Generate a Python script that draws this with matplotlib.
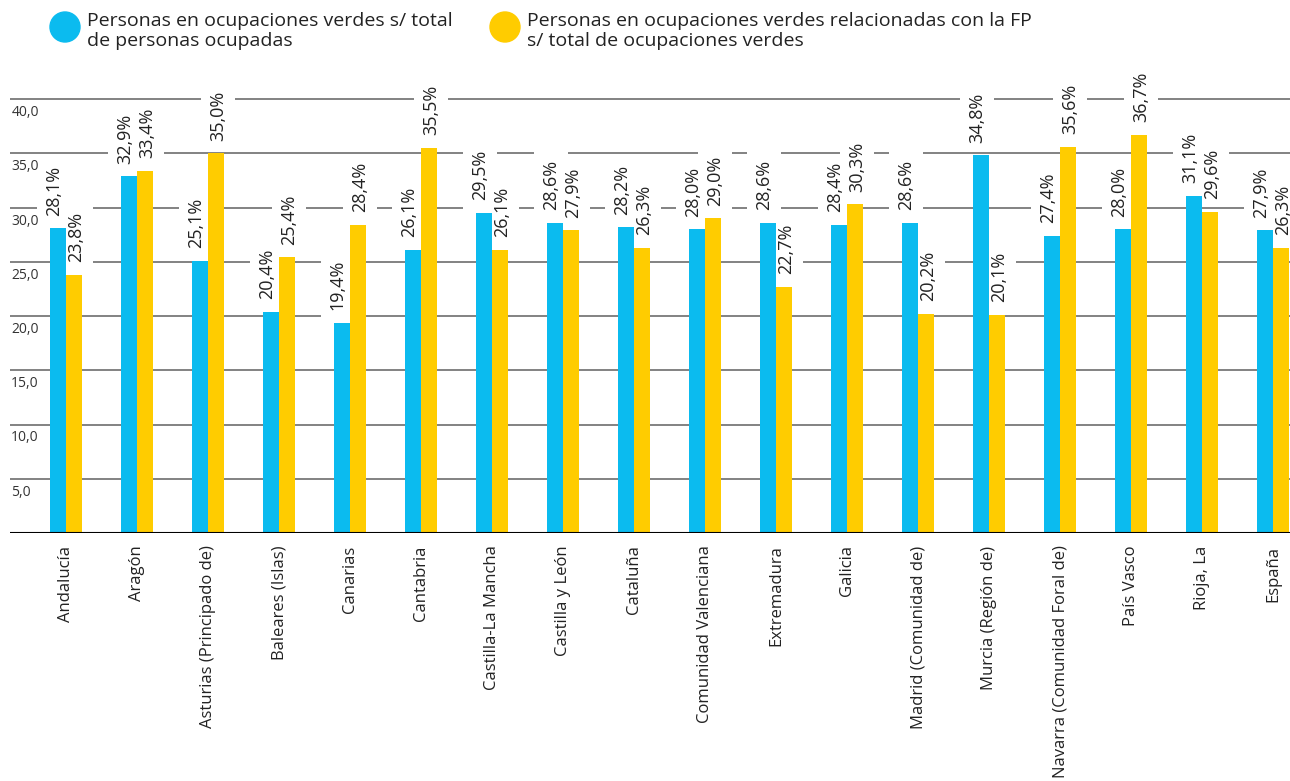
import numpy as np
import matplotlib
matplotlib.use("Agg")
import matplotlib.pyplot as plt
from matplotlib.patches import Ellipse

plt.rcParams['font.family'] = ['Open Sans', 'DejaVu Sans']

# data
regions = ["Andalucía", "Aragón", "Asturias (Principado de)", "Baleares (Islas)",
           "Canarias", "Cantabria", "Castilla-La Mancha", "Castilla y León",
           "Cataluña", "Comunidad Valenciana", "Extremadura", "Galicia",
           "Madrid (Comunidad de)", "Murcia (Región de)", "Navarra (Comunidad Foral de)",
           "País Vasco", "Rioja, La", "España"]
verdes_total = [28.1, 32.9, 25.1, 20.4, 19.4, 26.1, 29.5, 28.6, 28.2,
                28.0, 28.6, 28.4, 28.6, 34.8, 27.4, 28.0, 31.1, 27.9]
verdes_fp = [23.8, 33.4, 35.0, 25.4, 28.4, 35.5, 26.1, 27.9, 26.3,
             29.0, 22.7, 30.3, 20.2, 20.1, 35.6, 36.7, 29.6, 26.3]
yticks = [5, 10, 15, 20, 25, 30, 35, 40]
legend_labels = ["Personas en ocupaciones verdes s/ total\nde personas ocupadas",
                 "Personas en ocupaciones verdes relacionadas con la FP\ns/ total de ocupaciones verdes"]

BLUE = "#0BBBEF"
YELLOW = "#FFCC00"


def fmt(v):
    return f"{v:.1f}".replace(".", ",")


fig = plt.figure(figsize=(12.9, 7.81), dpi=100)
W, H = 1290, 781
ax = fig.add_axes([10 / W, 248 / H, 1280 / W, (533 - 66.5) / H])

x = np.arange(len(regions))
bw = 0.225

for v in yticks:
    ax.axhline(v, color="#606060", lw=1.1, zorder=1)
    ax.text(0.001, v - 0.55, fmt(v), transform=ax.get_yaxis_transform(),
            fontsize=10, color="#333333", va="top", ha="left", zorder=2.5)

ax.bar(x - bw / 2, verdes_total, bw, color=BLUE, zorder=3)
ax.bar(x + bw / 2, verdes_fp, bw, color=YELLOW, zorder=3)

# white boxes first (under bars), then the value texts on top
for xs, vals, dx in ((x - bw / 2, verdes_total, -3), (x + bw / 2, verdes_fp, 1.5)):
    for xi, v in zip(xs, vals):
        ax.annotate(fmt(v) + "%", (xi, v), xytext=(dx, 9), textcoords="offset points",
                    rotation=90, ha="center", va="bottom", fontsize=13, color="none",
                    bbox=dict(boxstyle="square,pad=0.45", fc="white", ec="none"),
                    zorder=2)
        ax.annotate(fmt(v) + "%", (xi, v), xytext=(dx, 9), textcoords="offset points",
                    rotation=90, ha="center", va="bottom", fontsize=13, color="#222222",
                    zorder=5)

ax.axhline(0, color="black", lw=1.5, zorder=4)
ax.set_xlim((10 - 66) / 71, (1290 - 66) / 71)
ax.set_ylim(0, 43)
ax.set_xticks(x)
ax.set_xticklabels(regions, rotation=90, fontsize=12, color="#222222", va="top")
ax.tick_params(axis="x", length=0, pad=9)
ax.set_yticks([])
for s in ax.spines.values():
    s.set_visible(False)

# legend
for cx, lab, col in ((65, legend_labels[0], BLUE), (505, legend_labels[1], YELLOW)):
    fig.add_artist(Ellipse((cx / W, 1 - 27 / H), 30 / W, 30 / H, transform=fig.transFigure,
                           color=col))
    fig.text((cx + 22) / W, 1 - 12 / H, lab, fontsize=14, color="#222222",
             va="top", ha="left", linespacing=1.15)

fig.savefig("out.png", dpi=100)
